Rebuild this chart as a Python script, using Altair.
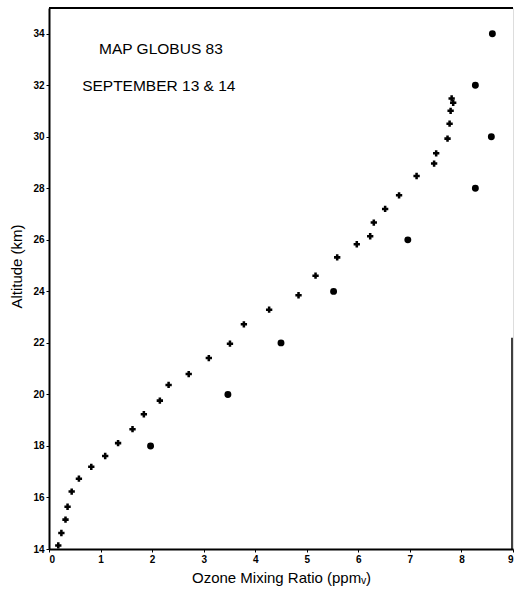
import altair as alt
import pandas as pd

# Profile (crosses)
cross_x = [0.18, 0.24, 0.32, 0.36, 0.44, 0.58, 0.82, 1.09, 1.34, 1.62, 1.84, 2.15, 2.32,
           2.71, 3.10, 3.51, 3.78, 4.27, 4.84, 5.17, 5.59, 5.97, 6.23, 6.30, 6.52, 6.79,
           7.13, 7.47, 7.51, 7.73, 7.77, 7.79, 7.84, 7.81]
cross_y = [14.14, 14.62, 15.14, 15.64, 16.23, 16.73, 17.19, 17.61, 18.11, 18.65, 19.23,
           19.76, 20.37, 20.79, 21.41, 21.97, 22.72, 23.29, 23.85, 24.61, 25.32, 25.83,
           26.14, 26.67, 27.20, 27.73, 28.48, 28.96, 29.36, 29.93, 30.51, 31.01, 31.32, 31.49]

# Reference (circles)
circle_x = [1.97, 3.47, 4.50, 5.52, 6.96, 8.27, 8.58, 8.27, 8.60]
circle_y = [18, 20, 22, 24, 26, 28, 30, 32, 34]

x_ticks = [0, 1, 2, 3, 4, 5, 6, 7, 8, 9]
y_ticks = [14, 16, 18, 20, 22, 24, 26, 28, 30, 32, 34]

notes = ["MAP GLOBUS 83", "SEPTEMBER 13 & 14"]
note_x = [2.17, 2.13]
note_y = [33.39, 31.96]

df_c = pd.DataFrame({"x": cross_x, "y": cross_y})
df_o = pd.DataFrame({"x": circle_x, "y": circle_y})
df_n = pd.DataFrame({"t": notes, "x": note_x, "y": note_y})

FONT = "Liberation Sans"

xs = alt.Scale(domain=[0, 9], nice=False, zero=False)
ys = alt.Scale(domain=[14, 35], nice=False, zero=False)

xaxis = alt.Axis(values=x_ticks, title="Ozone Mixing Ratio (ppmᵥ)", grid=False,
                 labelFont=FONT, labelFontSize=10, labelFontWeight="bold",
                 titleFont=FONT, titleFontSize=15, titleFontWeight="normal",
                 titlePadding=6, tickSize=3, labelPadding=2, domainWidth=2,
                 domainColor="black", tickColor="black", labelColor="black",
                 titleColor="black")
yaxis = alt.Axis(values=y_ticks, title="Altitude (km)", grid=False,
                 labelFont=FONT, labelFontSize=10, labelFontWeight="bold",
                 titleFont=FONT, titleFontSize=15, titleFontWeight="normal",
                 titlePadding=8, tickSize=3, labelPadding=2, domainWidth=2,
                 domainColor="black", tickColor="black", labelColor="black",
                 titleColor="black", titleY=258)

crosses = alt.Chart(df_c).mark_point(shape="cross", filled=True, color="black",
                                     size=40, opacity=1).encode(
    x=alt.X("x:Q", scale=xs, axis=xaxis),
    y=alt.Y("y:Q", scale=ys, axis=yaxis),
)
circles = alt.Chart(df_o).mark_point(shape="circle", filled=True, color="black",
                                     size=48, opacity=1).encode(
    x=alt.X("x:Q", scale=xs),
    y=alt.Y("y:Q", scale=ys),
)
text = alt.Chart(df_n).mark_text(font=FONT, fontSize=15.5, color="black",
                                 align="center", baseline="middle").encode(
    x=alt.X("x:Q", scale=xs),
    y=alt.Y("y:Q", scale=ys),
    text="t:N",
)
top_line = alt.Chart(pd.DataFrame({"y": [35]})).mark_rule(color="black", strokeWidth=2).encode(
    y=alt.Y("y:Q", scale=ys), x=alt.value(0), x2=alt.value(464))
right_line = alt.Chart(pd.DataFrame({"y": [14], "y2": [22.2]})).mark_rule(
    color="black", strokeWidth=1.5).encode(
    x=alt.value(463), y=alt.Y("y:Q", scale=ys), y2="y2:Q")

chart = alt.layer(top_line, right_line, crosses, circles, text).properties(
    width=464, height=541,
    autosize=alt.AutoSizeParams(type="none"),
    padding={"left": 49, "top": 8, "right": 1, "bottom": 43},
).configure_view(stroke=None).configure(background="white")

chart.save("out.html", embed_options={"renderer": "svg", "actions": False})
